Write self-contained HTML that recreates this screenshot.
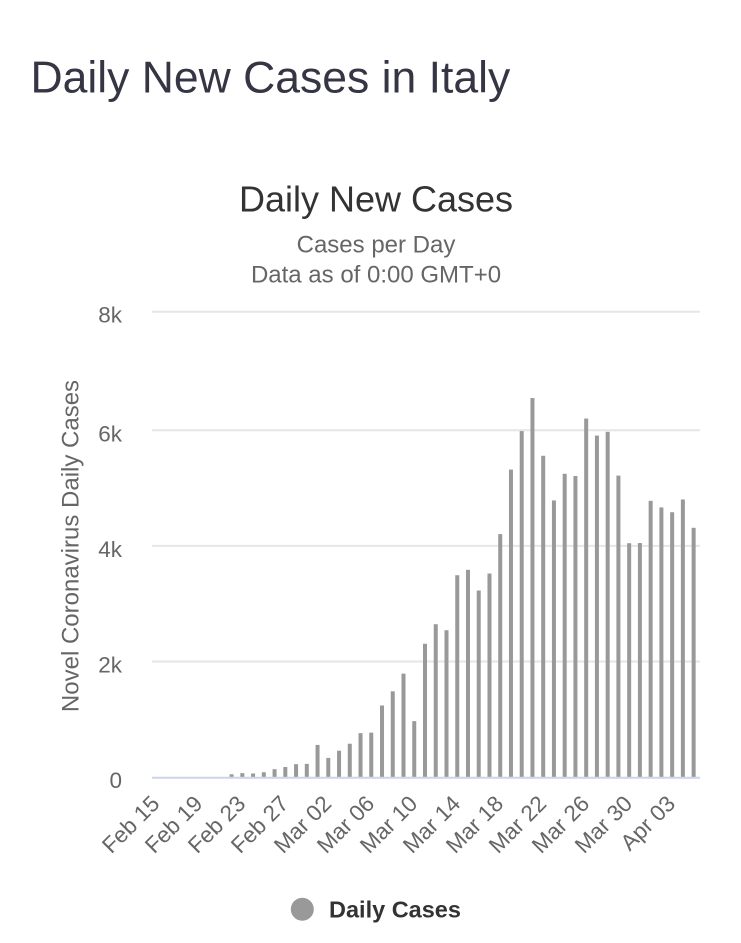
<!DOCTYPE html>
<html>
<head>
<meta charset="utf-8">
<style>
  html, body { margin: 0; padding: 0; background: #ffffff; }
  body { width: 741px; height: 943px; overflow: hidden; }
  svg { display: block; }
  text { font-family: "Liberation Sans", Arial, sans-serif; }
</style>
</head>
<body>
<svg width="741" height="943" viewBox="0 0 741 943" xmlns="http://www.w3.org/2000/svg">
  <rect x="0" y="0" width="741" height="943" fill="#ffffff"/>
  <!-- Page title -->
  <text x="30.5" y="92.7" font-size="44.5" fill="#353544">Daily New Cases in Italy</text>

  <!-- Chart title -->
  <text x="376" y="211.7" font-size="36" fill="#333333" text-anchor="middle">Daily New Cases</text>
  <text x="376" y="252.3" font-size="24" fill="#666666" text-anchor="middle">Cases per Day</text>
  <text x="376" y="282.3" font-size="24" fill="#666666" text-anchor="middle">Data as of 0:00 GMT+0</text>

  <!-- Gridlines -->
  <g stroke="#e6e6e6" stroke-width="2">
    <line x1="152" y1="311.7" x2="700" y2="311.7"/>
    <line x1="152" y1="430.3" x2="700" y2="430.3"/>
    <line x1="152" y1="545.9" x2="700" y2="545.9"/>
    <line x1="152" y1="661.5" x2="700" y2="661.5"/>
  </g>

  <!-- Y tick labels -->
  <g font-size="22.5" fill="#666666" text-anchor="end">
    <text x="122" y="322.7">8k</text>
    <text x="122" y="441.3">6k</text>
    <text x="122" y="556.9">4k</text>
    <text x="122" y="672.5">2k</text>
    <text x="122" y="788">0</text>
  </g>

  <!-- Y axis title -->
  <text transform="translate(78.5,546) rotate(-90)" font-size="24" fill="#666666" text-anchor="middle">Novel Coronavirus Daily Cases</text>

  <!-- Bars -->
  <g id="bars" fill="#999999"></g>

  <!-- X axis line -->
  <line x1="152" y1="777.7" x2="700" y2="777.7" stroke="#ccd6eb" stroke-width="2"/>

  <!-- X labels -->
  <g id="xlabels" font-size="22.5" fill="#666666" text-anchor="end"></g>

  <!-- Legend -->
  <circle cx="302.3" cy="909.3" r="11.5" fill="#999999"/>
  <text x="329" y="917.5" font-size="23.5" font-weight="bold" fill="#333333">Daily Cases</text>
</svg>
<script>
(function(){
  var data = [0,0,0,0,0,0,0,
    59,78,72,94,147,185,234,239,
    566,342,466,587,769,778,1247,1492,1797,977,
    2313,2651,2547,3497,3590,3233,3526,4207,5322,5986,6557,
    5560,4789,5249,5210,6203,5909,5974,5217,4050,4053,
    4782,4668,4585,4805,4316];
  var ns = "http://www.w3.org/2000/svg";
  var g = document.getElementById("bars");
  var step = 548/51;
  var base = 777.7, scale = 0.0579;
  for (var i=0;i<data.length;i++){
    var v = data[i];
    if (v<=0) continue;
    var cx = 151 + (i+0.5)*step;
    var h = v*scale;
    var r = document.createElementNS(ns,"rect");
    r.setAttribute("x",(cx-2).toFixed(2));
    r.setAttribute("y",(base-h).toFixed(2));
    r.setAttribute("width","4");
    r.setAttribute("height",h.toFixed(2));
    g.appendChild(r);
  }
  var labels = ["Feb 15","Feb 19","Feb 23","Feb 27","Mar 02","Mar 06","Mar 10","Mar 14","Mar 18","Mar 22","Mar 26","Mar 30","Apr 03"];
  var xg = document.getElementById("xlabels");
  for (var k=0;k<labels.length;k++){
    var idx = k*4;
    var x = 152 + (idx+0.5)*step + 3.5;
    var y = 805;
    var t = document.createElementNS(ns,"text");
    t.setAttribute("x",x.toFixed(2));
    t.setAttribute("y",y);
    t.setAttribute("transform","rotate(-45 "+x.toFixed(2)+" "+y+")");
    t.textContent = labels[k];
    xg.appendChild(t);
  }
})();
</script>
</body>
</html>
